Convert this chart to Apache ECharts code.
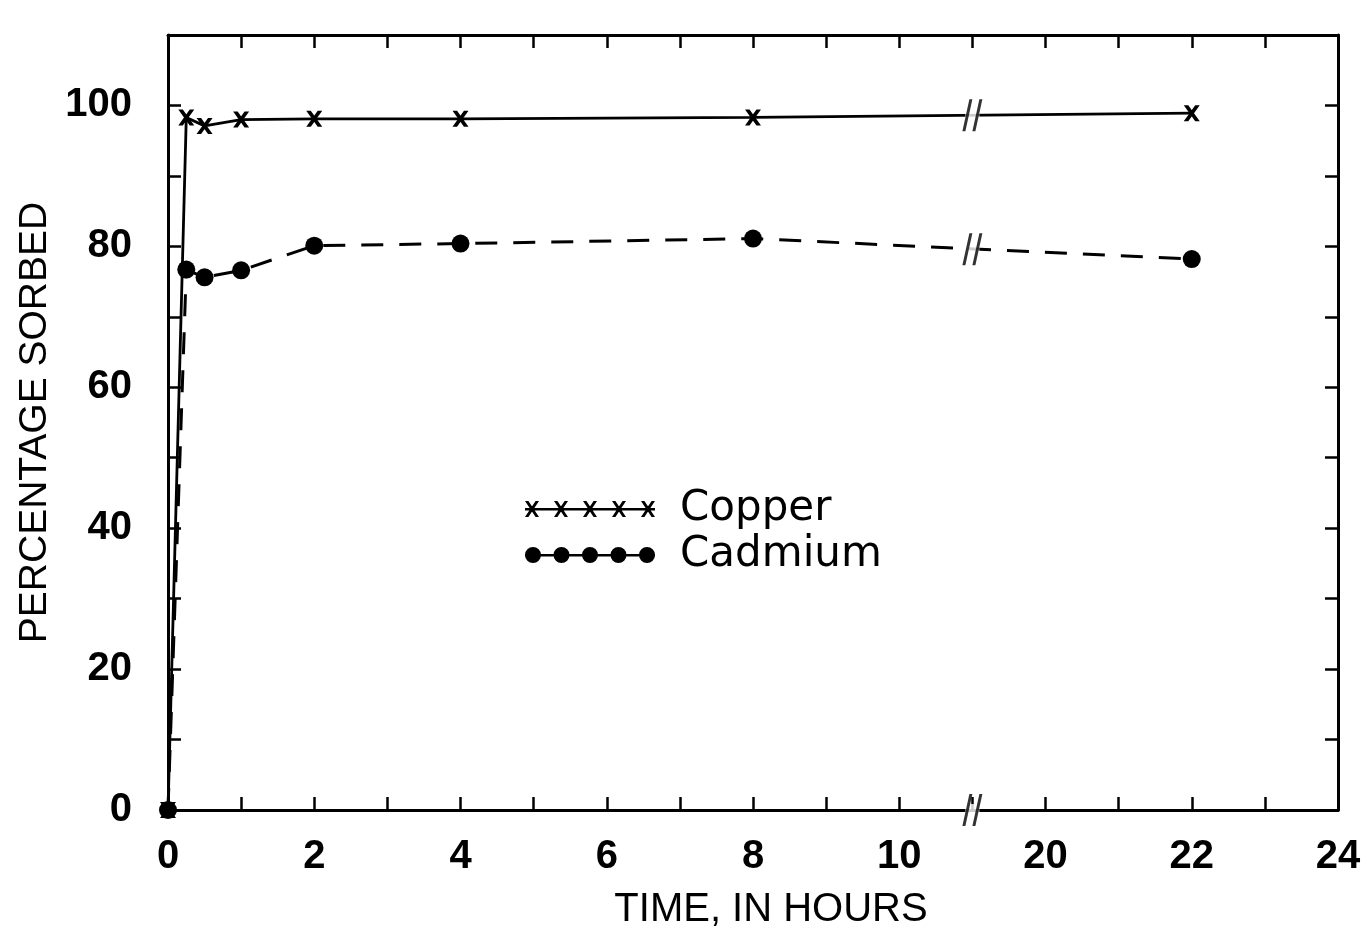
<!DOCTYPE html>
<html><head><meta charset="utf-8">
<script src="https://cdn.jsdelivr.net/npm/echarts@6/dist/echarts.min.js"></script>
<style>html,body{margin:0;padding:0;background:#fff}#c{width:1371px;height:928px}</style>
</head><body><div id="c"></div>
<script>
// ---- data (time in hours, percentage sorbed) ----
const hours   = [0, 0.25, 0.5, 1, 2, 4, 8, 22];
const copper  = [0, 98.3, 97.1, 98.0, 98.1, 98.1, 98.3, 98.9];
const cadmium = [0, 76.7, 75.6, 76.6, 80.1, 80.4, 81.1, 78.2];
// axis-break marks (hour, value)
const breakHours  = [11, 11, 11];
const breakValues = [98.6, 79.6, 0];
// tick labels
const xTickPositions = [0, 2, 4, 6, 8, 10, 12, 14, 16];
const xTickLabels    = ['0', '2', '4', '6', '8', '10', '20', '22', '24'];
const yTickLabels    = [0, 20, 40, 60, 80, 100];

// broken time axis: hours 11..19 collapse onto axis position 11
function toAxis(h) { return h <= 11 ? h : h - 8; }

const crossPath = 'path://M0,0 L3.4,0 L12,12 L8.6,12 Z M8.6,0 L12,0 L3.4,12 L0,12 Z';
const slashPath = 'path://M0,30 L3,30 L10,0 L7,0 Z M10,30 L13,30 L20,0 L17,0 Z';

function crossesIcon() {
  let p = 'path://M0,9 L130,9 L130,11.5 L0,11.5 Z';
  [7, 36, 65, 94, 123].forEach(c => {
    p += ` M${c-7},2 L${c-3.6},2 L${c+7},18 L${c+3.6},18 Z M${c+3.6},2 L${c+7},2 L${c-3.6},18 L${c-7},18 Z`;
  });
  return p;
}
function dotsIcon() {
  let p = 'path://M0,9 L130,9 L130,11.5 L0,11.5 Z';
  [8, 36.5, 65, 93.5, 122].forEach(c => {
    p += ` M${c-8},10 A8,8 0 1,1 ${c+8},10 A8,8 0 1,1 ${c-8},10 Z`;
  });
  return p;
}

const labelFont = { fontFamily: 'Liberation Sans', fontWeight: 'bold', fontSize: 40, color: '#000' };
const axisLine = { show: true, onZero: false, lineStyle: { color: '#000', width: 3 } };
const tickIn = { show: true, inside: true, length: 13, lineStyle: { color: '#000', width: 2.5 } };

const chart = echarts.init(document.getElementById('c'), null, { renderer: 'canvas' });
chart.setOption({
  backgroundColor: '#fff',
  animation: false,
  grid: { left: 168, right: 33, top: 35, bottom: 118, containLabel: false, outerBoundsMode: 'none' },
  legend: {
    data: [
      { name: 'Copper', icon: crossesIcon() },
      { name: 'Cadmium', icon: dotsIcon() }
    ],
    orient: 'vertical', left: 525, top: 488, padding: 0,
    itemWidth: 130, itemHeight: 20, itemGap: 4, selectedMode: false,
    textStyle: { fontFamily: 'DejaVu Sans', fontSize: 42, color: '#000', lineHeight: 40, padding: [0, 0, 0, 20] }
  },
  xAxis: [
    {
      type: 'value', position: 'bottom', min: 0, max: 16, interval: 1,
      name: 'TIME, IN HOURS', nameLocation: 'middle', nameGap: 80,
      nameTextStyle: { fontFamily: 'Liberation Sans', fontSize: 40, color: '#000', padding: [0, 0, 0, 36] },
      axisLine: axisLine, axisTick: tickIn, splitLine: { show: false },
      axisLabel: Object.assign({ margin: 27, formatter: v => {
        const i = xTickPositions.indexOf(v); return i >= 0 ? xTickLabels[i] : '';
      } }, labelFont)
    },
    {
      type: 'value', position: 'top', min: 0, max: 16, interval: 1,
      axisLine: axisLine, axisTick: tickIn, splitLine: { show: false }, axisLabel: { show: false }
    }
  ],
  yAxis: [
    {
      type: 'value', position: 'left', min: 0, max: 110, interval: 10,
      name: 'PERCENTAGE SORBED', nameLocation: 'middle', nameGap: 106,
      nameTextStyle: { fontFamily: 'Liberation Sans', fontSize: 39, color: '#000' },
      axisLine: axisLine, axisTick: tickIn, splitLine: { show: false },
      axisLabel: Object.assign({ margin: 36, formatter: v => yTickLabels.includes(v) ? String(v) : '' }, labelFont)
    },
    {
      type: 'value', position: 'right', min: 0, max: 110, interval: 10,
      axisLine: axisLine, axisTick: tickIn, splitLine: { show: false }, axisLabel: { show: false }
    }
  ],
  series: [
    {
      name: 'Copper', type: 'line', clip: false, z: 3,
      data: hours.map((h, i) => [toAxis(h), copper[i]]),
      symbol: crossPath, symbolSize: 16,
      itemStyle: { color: '#000' },
      lineStyle: { color: '#000', width: 2.8, type: 'solid' }
    },
    {
      name: 'Cadmium', type: 'line', clip: false, z: 4,
      data: hours.map((h, i) => [toAxis(h), cadmium[i]]),
      symbol: 'circle', symbolSize: 18,
      itemStyle: { color: '#000' },
      lineStyle: { color: '#000', width: 3, type: [22, 16] }
    },
    {
      name: 'breakGap', type: 'scatter', clip: false, z: 10, silent: true,
      data: breakHours.map((h, i) => [toAxis(h), breakValues[i]]),
      symbol: 'rect', symbolSize: [14, 12], itemStyle: { color: '#fff' }
    },
    {
      name: 'breakSlash', type: 'scatter', clip: false, z: 11, silent: true,
      data: breakHours.map((h, i) => [toAxis(h), breakValues[i]]),
      symbol: slashPath, symbolSize: [20, 32], itemStyle: { color: '#000' }
    }
  ]
});
</script>
</body></html>
